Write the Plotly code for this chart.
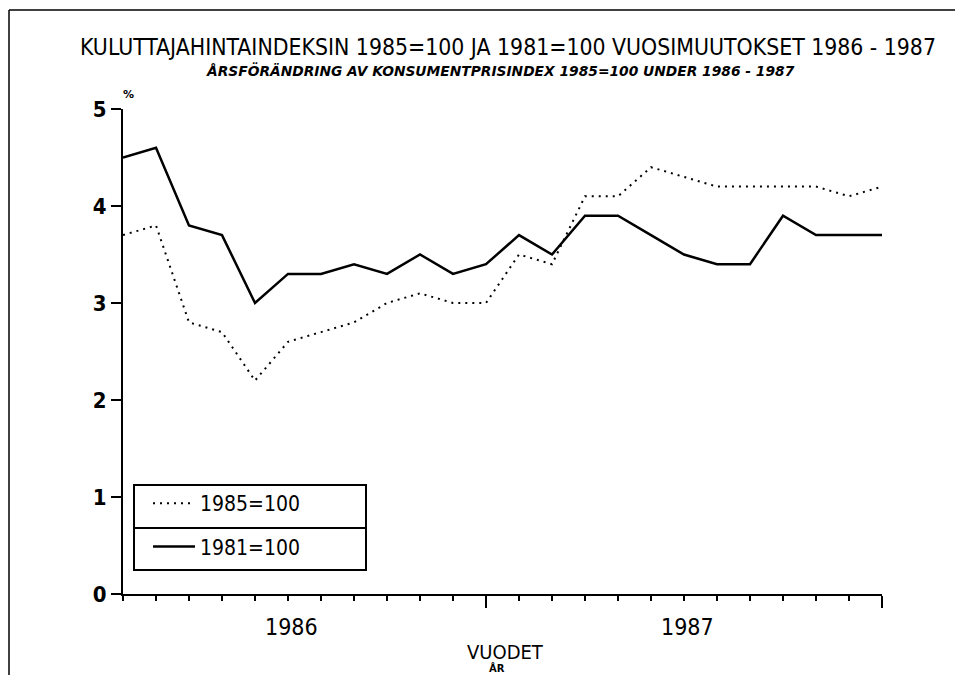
import plotly.graph_objects as go

months = list(range(24))  # Jan 1986 .. Dec 1987
idx_1985 = [3.7, 3.8, 2.8, 2.7, 2.2, 2.6, 2.7, 2.8, 3.0, 3.1, 3.0, 3.0,
            3.5, 3.4, 4.1, 4.1, 4.4, 4.3, 4.2, 4.2, 4.2, 4.2, 4.1, 4.2]
idx_1981 = [4.5, 4.6, 3.8, 3.7, 3.0, 3.3, 3.3, 3.4, 3.3, 3.5, 3.3, 3.4,
            3.7, 3.5, 3.9, 3.9, 3.7, 3.5, 3.4, 3.4, 3.9, 3.7, 3.7, 3.7]
year_labels = ["1986", "1987"]
year_label_pos = [5.1, 17.1]
y_ticks = [0, 1, 2, 3, 4, 5]

NARROW = "DejaVu Sans Condensed, Liberation Sans Narrow, DejaVu Sans, sans-serif"
WIDE = "DejaVu Sans, Liberation Sans, sans-serif"

# body margin is removed by post_script, so the figure fills the window
W, H = 955, 675
PX0, PX1, PY0, PY1 = 123, 882, 109, 594  # plot area in reference pixels
PW, PH = PX1 - PX0, PY1 - PY0


def px(x):
    return (x - PX0) / PW


def py(y):
    return (PY1 - y) / PH


fig = go.Figure()
fig.add_trace(go.Scatter(x=months, y=idx_1985, mode="lines", name="1985=100",
                         line=dict(color="black", width=2, dash="2px,5px"),
                         legendgroup="a"))
fig.add_trace(go.Scatter(x=months, y=idx_1981, mode="lines", name="1981=100",
                         line=dict(color="black", width=2.5),
                         legendgroup="b"))

fig.update_layout(
    width=W, height=H,
    margin=dict(l=PX0, r=W - PX1, t=PY0, b=H - PY1),
    paper_bgcolor="white", plot_bgcolor="white",
    title=dict(text="KULUTTAJAHINTAINDEKSIN 1985=100 JA 1981=100 VUOSIMUUTOKSET 1986 - 1987",
               x=508 / W, xanchor="center", xref="container",
               y=1 - 47 / H, yanchor="middle", yref="container",
               font=dict(family=NARROW, size=22.8, color="black")),
    xaxis=dict(range=[0, 23], showgrid=False, zeroline=False,
               showline=True, linecolor="black", linewidth=2,
               tick0=11, dtick=12, ticks="outside", ticklen=12, tickwidth=2,
               tickcolor="black", showticklabels=False,
               minor=dict(dtick=1, tick0=0, ticks="outside", ticklen=5,
                          tickwidth=2, tickcolor="black")),
    yaxis=dict(range=[0, 5], showgrid=False, zeroline=False,
               showline=True, linecolor="black", linewidth=2,
               tickvals=y_ticks, ticks="outside", ticklen=10, tickwidth=2,
               tickcolor="black",
               tickfont=dict(family=NARROW, size=22, color="black", weight="bold")),
    showlegend=True,
    legend=dict(x=px(148), y=py(483), xanchor="left", yanchor="top",
                bgcolor="rgba(0,0,0,0)", borderwidth=0,
                font=dict(family=NARROW, size=21, color="black"),
                tracegroupgap=13, itemwidth=42, traceorder="grouped"),
)

# legend frame and separator
fig.add_shape(type="rect", xref="paper", yref="paper",
              x0=px(134), x1=px(366), y0=py(570), y1=py(485),
              line=dict(color="black", width=2))
fig.add_shape(type="line", xref="paper", yref="paper",
              x0=px(134), x1=px(366), y0=py(528), y1=py(528),
              line=dict(color="black", width=2))
# outer frame: top and left edges only
fig.add_shape(type="line", xref="paper", yref="paper",
              x0=px(9), x1=px(960), y0=py(10), y1=py(10),
              line=dict(color="black", width=1.5))
fig.add_shape(type="line", xref="paper", yref="paper",
              x0=px(9), x1=px(9), y0=py(10), y1=py(700),
              line=dict(color="black", width=1.5))

ann = []
ann.append(dict(text="<b><i>ÅRSFÖRÄNDRING AV KONSUMENTPRISINDEX 1985=100 UNDER 1986 - 1987</i></b>",
                x=px(500), y=py(70), xref="paper", yref="paper",
                xanchor="center", yanchor="middle",
                showarrow=False, font=dict(family=WIDE, size=13.8, color="black")))
ann.append(dict(text="<b>%</b>", x=px(128), y=py(94),
                xref="paper", yref="paper", xanchor="center", yanchor="middle",
                showarrow=False, font=dict(family=WIDE, size=11, color="black")))
for lab, pos in zip(year_labels, year_label_pos):
    ann.append(dict(text=lab, x=pos, y=py(627), xref="x", yref="paper",
                    xanchor="center", yanchor="middle",
                    showarrow=False, font=dict(family=NARROW, size=23, color="black")))
ann.append(dict(text="VUODET", x=px(505), y=py(652),
                xref="paper", yref="paper", xanchor="center", yanchor="middle",
                showarrow=False, font=dict(family=NARROW, size=20, color="black")))
ann.append(dict(text="<b>ÅR</b>", x=px(497), y=py(668),
                xref="paper", yref="paper", xanchor="center", yanchor="middle",
                showarrow=False, font=dict(family=WIDE, size=10, color="black")))
fig.update_layout(annotations=ann)

fig.write_html("out.html",
               config={"displayModeBar": False},
               post_script="document.body.style.margin='0';"
                           "document.body.style.overflow='hidden';")
